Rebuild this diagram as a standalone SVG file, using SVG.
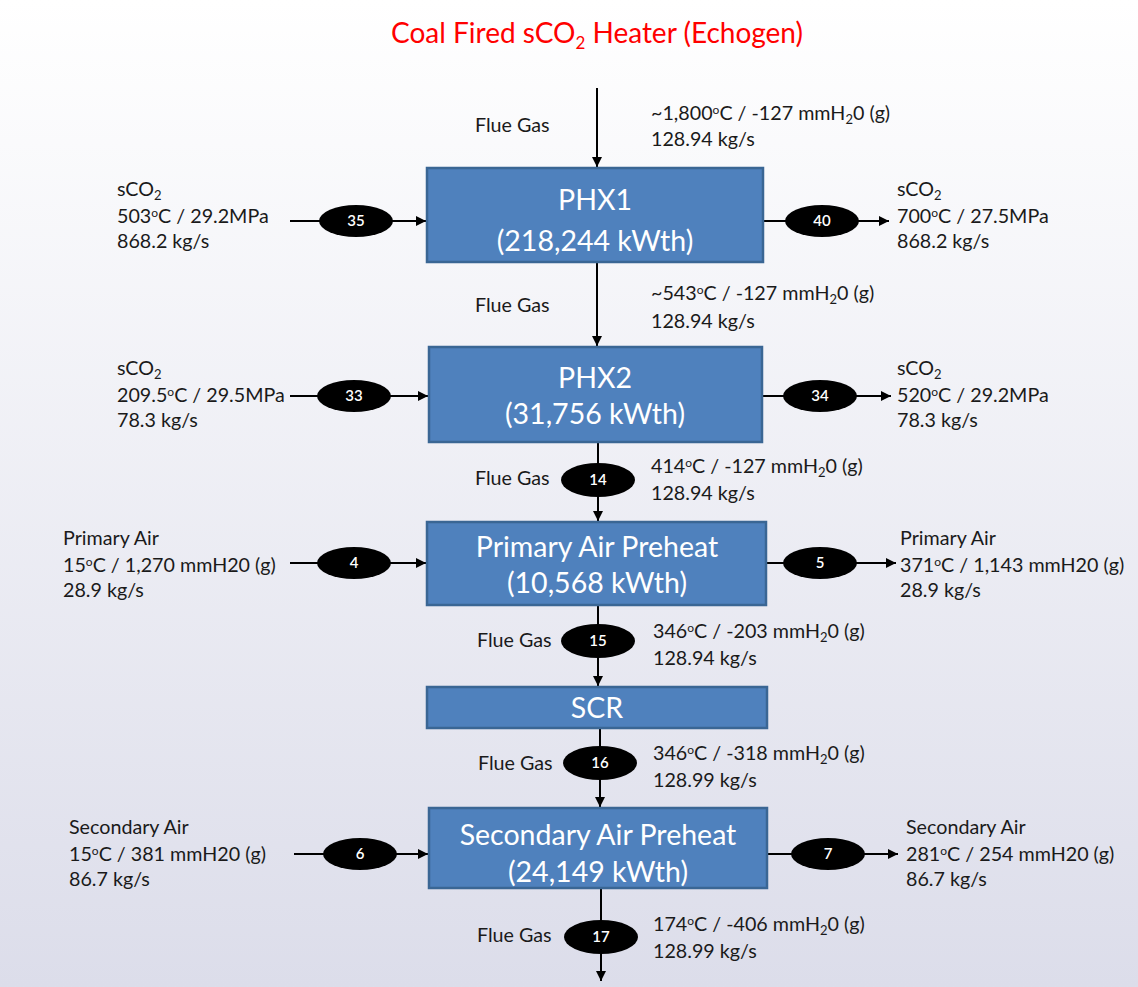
<svg xmlns="http://www.w3.org/2000/svg" width="1138" height="987" viewBox="0 0 1138 987">
  <defs>
    <linearGradient id="bg" x1="0" y1="0" x2="0" y2="1">
      <stop offset="0" stop-color="#FFFFFF"/>
      <stop offset="1" stop-color="#DCDDEA"/>
    </linearGradient>
    <marker id="arrow" viewBox="0 0 10 10" refX="10" refY="5" markerWidth="10" markerHeight="10" markerUnits="userSpaceOnUse" orient="auto">
      <path d="M0,0 L10,5 L0,10 z" fill="#000"/>
    </marker>
    <style>
      .lbl { font-family: Lato, "Open Sans", sans-serif; font-size: 19.7px; fill: #1a1a1a; }
      .box { fill: #4F81BD; stroke: #3A6694; stroke-width: 2.5; }
      .boxt { font-family: Lato, "Open Sans", sans-serif; font-size: 28.5px; fill: #FFFFFF; text-anchor: middle; }
      .tag { fill: #000; }
      .tagt { font-family: Lato, "Open Sans", sans-serif; font-size: 15px; font-weight: 600; fill: #FFFFFF; text-anchor: middle; }
      .flow { stroke: #000; stroke-width: 2; fill: none; marker-end: url(#arrow); }
      .sub { font-size: 13px; }
      .sup { font-size: 12px; }
    </style>
  </defs>

  <rect width="1138" height="987" fill="url(#bg)"/>

  <text x="597" y="43" text-anchor="middle" font-family="Lato, 'Open Sans', sans-serif" font-size="28" fill="#FF0000">Coal Fired sCO<tspan font-size="17" dy="6">2</tspan><tspan dy="-6"> Heater (Echogen)</tspan></text>

  <!-- flow lines -->
  <g id="connectors">
    <line class="flow" x1="597" y1="88" x2="597" y2="167"/>
    <line class="flow" x1="597" y1="263" x2="597" y2="346"/>
    <line class="flow" x1="598" y1="443" x2="598" y2="521"/>
    <line class="flow" x1="598" y1="606" x2="598" y2="686"/>
    <line class="flow" x1="600" y1="729" x2="600" y2="807"/>
    <line class="flow" x1="601" y1="889" x2="601" y2="981"/>

    <line class="flow" x1="290" y1="221" x2="426" y2="221"/>
    <line class="flow" x1="764" y1="221" x2="889" y2="221"/>
    <line class="flow" x1="290" y1="396" x2="428" y2="396"/>
    <line class="flow" x1="763" y1="396" x2="891" y2="396"/>
    <line class="flow" x1="290" y1="563" x2="426" y2="563"/>
    <line class="flow" x1="767" y1="563" x2="896" y2="563"/>
    <line class="flow" x1="294" y1="854" x2="428" y2="854"/>
    <line class="flow" x1="768" y1="854" x2="898" y2="854"/>
  </g>

  <!-- equipment -->
  <g id="phx1">
    <rect class="box" x="427" y="168" width="336" height="94"/>
    <text class="boxt" x="595" y="210">PHX1</text>
    <text class="boxt" x="595" y="251">(218,244 kWth)</text>
  </g>
  <g id="phx2">
    <rect class="box" x="429" y="347" width="333" height="95"/>
    <text class="boxt" x="595" y="388">PHX2</text>
    <text class="boxt" x="595" y="424">(31,756 kWth)</text>
  </g>
  <g id="primary-air-preheat">
    <rect class="box" x="427" y="522" width="339" height="83"/>
    <text class="boxt" x="597" y="557">Primary Air Preheat</text>
    <text class="boxt" x="597" y="593">(10,568 kWth)</text>
  </g>
  <g id="scr">
    <rect class="box" x="427" y="687" width="340" height="41"/>
    <text class="boxt" x="597" y="718">SCR</text>
  </g>
  <g id="secondary-air-preheat">
    <rect class="box" x="429" y="808" width="338" height="80"/>
    <text class="boxt" x="598" y="845">Secondary Air Preheat</text>
    <text class="boxt" x="598" y="882">(24,149 kWth)</text>
  </g>

  <!-- stream tags -->
  <g id="s35"><ellipse class="tag" cx="356" cy="221" rx="37" ry="16"/><text class="tagt" x="356" y="226">35</text></g>
  <g id="s40"><ellipse class="tag" cx="822" cy="221" rx="37" ry="16"/><text class="tagt" x="822" y="226">40</text></g>
  <g id="s33"><ellipse class="tag" cx="354" cy="396" rx="37" ry="16"/><text class="tagt" x="354" y="401">33</text></g>
  <g id="s34"><ellipse class="tag" cx="820" cy="396" rx="37" ry="16"/><text class="tagt" x="820" y="401">34</text></g>
  <g id="s4"><ellipse class="tag" cx="354" cy="563" rx="37" ry="16"/><text class="tagt" x="354" y="568">4</text></g>
  <g id="s5"><ellipse class="tag" cx="820" cy="563" rx="37" ry="16"/><text class="tagt" x="820" y="568">5</text></g>
  <g id="s6"><ellipse class="tag" cx="360" cy="854" rx="37" ry="16"/><text class="tagt" x="360" y="859">6</text></g>
  <g id="s7"><ellipse class="tag" cx="828" cy="854" rx="37" ry="16"/><text class="tagt" x="828" y="859">7</text></g>
  <g id="s14"><ellipse class="tag" cx="598" cy="480" rx="37" ry="17"/><text class="tagt" x="598" y="485">14</text></g>
  <g id="s15"><ellipse class="tag" cx="598" cy="641" rx="37" ry="17"/><text class="tagt" x="598" y="646">15</text></g>
  <g id="s16"><ellipse class="tag" cx="600" cy="763" rx="37" ry="17"/><text class="tagt" x="600" y="768">16</text></g>
  <g id="s17"><ellipse class="tag" cx="601" cy="937" rx="37" ry="17"/><text class="tagt" x="601" y="942">17</text></g>

  <!-- stream conditions -->
  <g id="labels">
    <text class="lbl" x="475" y="132">Flue Gas</text>
    <text class="lbl" x="651" y="120">~1,800<tspan class="sup" dy="-6">o</tspan><tspan dy="6">C / -127 mmH</tspan><tspan class="sub" dy="4">2</tspan><tspan dy="-4">0 (g)</tspan></text>
    <text class="lbl" x="651" y="146">128.94 kg/s</text>

    <text class="lbl" x="117" y="196">sCO<tspan class="sub" dy="4">2</tspan></text>
    <text class="lbl" x="117" y="223">503<tspan class="sup" dy="-6">o</tspan><tspan dy="6">C / 29.2MPa</tspan></text>
    <text class="lbl" x="117" y="248">868.2 kg/s</text>

    <text class="lbl" x="897" y="196">sCO<tspan class="sub" dy="4">2</tspan></text>
    <text class="lbl" x="897" y="223">700<tspan class="sup" dy="-6">o</tspan><tspan dy="6">C / 27.5MPa</tspan></text>
    <text class="lbl" x="897" y="248">868.2 kg/s</text>

    <text class="lbl" x="475" y="312">Flue Gas</text>
    <text class="lbl" x="651" y="300">~543<tspan class="sup" dy="-6">o</tspan><tspan dy="6">C / -127 mmH</tspan><tspan class="sub" dy="4">2</tspan><tspan dy="-4">0 (g)</tspan></text>
    <text class="lbl" x="651" y="328">128.94 kg/s</text>

    <text class="lbl" x="117" y="375">sCO<tspan class="sub" dy="4">2</tspan></text>
    <text class="lbl" x="117" y="402">209.5<tspan class="sup" dy="-6">o</tspan><tspan dy="6">C / 29.5MPa</tspan></text>
    <text class="lbl" x="117" y="427">78.3 kg/s</text>

    <text class="lbl" x="897" y="375">sCO<tspan class="sub" dy="4">2</tspan></text>
    <text class="lbl" x="897" y="402">520<tspan class="sup" dy="-6">o</tspan><tspan dy="6">C / 29.2MPa</tspan></text>
    <text class="lbl" x="897" y="427">78.3 kg/s</text>

    <text class="lbl" x="475" y="485">Flue Gas</text>
    <text class="lbl" x="651" y="473">414<tspan class="sup" dy="-6">o</tspan><tspan dy="6">C / -127 mmH</tspan><tspan class="sub" dy="4">2</tspan><tspan dy="-4">0 (g)</tspan></text>
    <text class="lbl" x="651" y="500">128.94 kg/s</text>

    <text class="lbl" x="63" y="545">Primary Air</text>
    <text class="lbl" x="63" y="572">15<tspan class="sup" dy="-6">o</tspan><tspan dy="6">C / 1,270 mmH20 (g)</tspan></text>
    <text class="lbl" x="63" y="597">28.9 kg/s</text>

    <text class="lbl" x="900" y="545">Primary Air</text>
    <text class="lbl" x="900" y="572">371<tspan class="sup" dy="-6">o</tspan><tspan dy="6">C / 1,143 mmH20 (g)</tspan></text>
    <text class="lbl" x="900" y="597">28.9 kg/s</text>

    <text class="lbl" x="477" y="647">Flue Gas</text>
    <text class="lbl" x="653" y="638">346<tspan class="sup" dy="-6">o</tspan><tspan dy="6">C / -203 mmH</tspan><tspan class="sub" dy="4">2</tspan><tspan dy="-4">0 (g)</tspan></text>
    <text class="lbl" x="653" y="665">128.94 kg/s</text>

    <text class="lbl" x="478" y="770">Flue Gas</text>
    <text class="lbl" x="653" y="760">346<tspan class="sup" dy="-6">o</tspan><tspan dy="6">C / -318 mmH</tspan><tspan class="sub" dy="4">2</tspan><tspan dy="-4">0 (g)</tspan></text>
    <text class="lbl" x="653" y="787">128.99 kg/s</text>

    <text class="lbl" x="69" y="834">Secondary Air</text>
    <text class="lbl" x="69" y="861">15<tspan class="sup" dy="-6">o</tspan><tspan dy="6">C / 381 mmH20 (g)</tspan></text>
    <text class="lbl" x="69" y="886">86.7 kg/s</text>

    <text class="lbl" x="906" y="834">Secondary Air</text>
    <text class="lbl" x="906" y="861">281<tspan class="sup" dy="-6">o</tspan><tspan dy="6">C / 254 mmH20 (g)</tspan></text>
    <text class="lbl" x="906" y="886">86.7 kg/s</text>

    <text class="lbl" x="477" y="942">Flue Gas</text>
    <text class="lbl" x="653" y="931">174<tspan class="sup" dy="-6">o</tspan><tspan dy="6">C / -406 mmH</tspan><tspan class="sub" dy="4">2</tspan><tspan dy="-4">0 (g)</tspan></text>
    <text class="lbl" x="653" y="958">128.99 kg/s</text>
  </g>
</svg>
